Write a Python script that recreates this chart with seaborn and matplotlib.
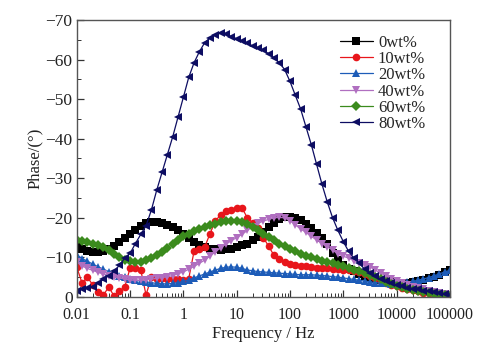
import numpy as np
import pandas as pd
import matplotlib
matplotlib.use("Agg")
import matplotlib.pyplot as plt
from matplotlib.ticker import FixedLocator, FuncFormatter, MultipleLocator, LogLocator
import seaborn as sns

# frequency grid (10 points per decade, 0.01 Hz .. 100 kHz)
freq = np.logspace(-2, 5, 71)

# phase magnitudes (degrees, plotted as negative)
phase_0 = [12.6, 12.0, 11.6, 11.4, 11.4, 11.6, 12.0, 12.8, 13.8, 15.0,
           16.0, 17.0, 17.9, 18.6, 19.0, 19.0, 18.7, 18.2, 17.6, 16.8,
           16.0, 15.0, 14.0, 13.2, 12.6, 12.2, 12.0, 11.9, 12.0, 12.2,
           12.6, 13.0, 13.5, 14.3, 15.2, 16.3, 17.6, 18.7, 19.6, 20.1,
           20.3, 20.0, 19.4, 18.5, 17.4, 16.2, 14.8, 13.4, 11.2, 9.4,
           8.0, 7.1, 6.5, 5.9, 5.4, 5.0, 4.6, 4.2, 3.9, 3.7,
           3.5, 3.4, 3.5, 3.7, 4.0, 4.3, 4.7, 5.1, 5.6, 6.2,
           6.8]
phase_10 = [7.5, 3.5, 5.0, 3.0, 1.3, 0.5, 2.5, 0.2, 1.5, 2.5,
            7.3, 7.3, 6.8, 0.5, 5.0, 4.5, 4.8, 4.6, 4.5, 4.4,
            4.3, 4.6, 11.5, 12.0, 12.6, 16.0, 19.2, 20.8, 21.6, 22.0,
            22.5, 22.5, 20.0, 18.7, 17.4, 15.0, 12.8, 10.5, 9.5, 8.8,
            8.4, 8.1, 7.9, 7.7, 7.5, 7.4, 7.3, 7.2, 7.1, 7.0,
            6.9, 6.7, 6.5, 6.2, 5.8, 5.3, 4.7, 4.1, 3.6, 3.1,
            2.7, 2.3, 2.0, 1.7, 1.4, 1.1, 0.9, 0.7, 0.5, 0.3,
            0.2]
phase_20 = [10.6, 9.7, 9.0, 8.3, 7.6, 7.0, 6.4, 5.9, 5.4, 5.0,
            4.6, 4.3, 4.0, 3.8, 3.6, 3.4, 3.3, 3.3, 3.4, 3.6,
            3.9, 4.3, 4.8, 5.3, 5.8, 6.3, 6.8, 7.2, 7.5, 7.6,
            7.5, 7.2, 6.8, 6.6, 6.4, 6.3, 6.2, 6.1, 6.0, 5.9,
            5.8, 5.7, 5.6, 5.6, 5.6, 5.5, 5.4, 5.3, 5.1, 5.0,
            4.8, 4.6, 4.4, 4.2, 4.0, 3.8, 3.6, 3.5, 3.4, 3.3,
            3.4, 3.5, 3.7, 3.9, 4.2, 4.5, 4.9, 5.3, 5.8, 6.3,
            6.7]
phase_40 = [8.8, 7.8, 7.2, 6.7, 6.2, 5.8, 5.4, 5.0, 4.8, 4.5,
            4.3, 4.2, 4.2, 4.3, 4.5, 4.7, 4.9, 5.1, 5.4, 5.9,
            6.3, 7.0, 7.7, 8.5, 9.3, 10.3, 11.4, 12.4, 13.4, 14.2,
            15.0, 15.8, 16.8, 17.8, 18.6, 19.2, 19.6, 20.0, 20.1, 20.0,
            19.3, 18.2, 17.2, 16.3, 15.3, 14.4, 13.5, 12.7, 11.8, 10.9,
            10.3, 9.8, 9.2, 8.6, 8.1, 7.6, 6.8, 6.0, 5.3, 4.6,
            4.0, 3.5, 3.0, 2.6, 2.2, 1.9, 1.6, 1.3, 1.0, 0.7,
            0.5]
phase_60 = [14.4, 14.2, 13.9, 13.5, 13.0, 12.5, 11.8, 10.8, 10.0, 9.3,
            9.0, 8.8, 8.9, 9.3, 9.8, 10.5, 11.4, 12.4, 13.4, 14.4,
            15.4, 16.0, 16.6, 17.1, 17.6, 18.1, 18.5, 18.9, 19.1, 19.3,
            19.3, 19.0, 18.4, 17.6, 16.8, 16.0, 15.1, 14.3, 13.5, 12.8,
            12.2, 11.5, 10.9, 10.4, 10.0, 9.6, 9.2, 8.9, 8.5, 8.1,
            7.7, 7.3, 6.9, 6.5, 6.0, 5.5, 5.0, 4.4, 3.8, 3.3,
            2.8, 2.4, 2.0, 1.7, 1.4, 1.2, 1.0, 0.8, 0.6, 0.4,
            0.2]
phase_80 = [1.5, 2.0, 2.3, 2.6, 3.5, 4.4, 5.4, 6.5, 8.0, 9.8,
            11.0, 13.5, 15.8, 18.0, 22.0, 27.0, 31.5, 36.0, 40.5, 45.5,
            50.5, 55.5, 59.2, 62.0, 64.3, 65.5, 66.3, 66.7, 66.5, 65.8,
            65.3, 64.7, 64.1, 63.5, 63.0, 62.4, 61.5, 60.5, 59.2, 57.5,
            54.5, 51.0, 47.5, 43.0, 38.5, 33.5, 28.5, 24.0, 20.0, 16.8,
            14.0, 11.5, 9.8, 8.5, 7.0, 6.0, 5.2, 4.5, 4.0, 3.4,
            3.0, 2.7, 2.3, 2.1, 1.9, 1.6, 1.4, 1.2, 1.0, 0.8,
            0.6]

labels = ["0wt%", "10wt%", "20wt%", "40wt%", "60wt%", "80wt%"]
colors = ["#000000", "#e8161b", "#1d5cb8", "#b06fc0", "#3b8b1d", "#0d0d62"]
markers = ["s", "o", "^", "v", "D", "<"]
series = [phase_0, phase_10, phase_20, phase_40, phase_60, phase_80]

frames = []
for lab, vals in zip(labels, series):
    frames.append(pd.DataFrame({"freq": freq, "phase": -np.array(vals), "sample": lab}))
df = pd.concat(frames, ignore_index=True)

sns.set_style("ticks")
plt.rcParams["font.family"] = ["Liberation Serif", "DejaVu Serif"]
plt.rcParams["axes.unicode_minus"] = True

fig = plt.figure(figsize=(4.89, 3.59), dpi=100)
ax = fig.add_axes([0.157, 0.173, 0.763, 0.771])

sns.lineplot(data=df, x="freq", y="phase", hue="sample", style="sample",
             palette=dict(zip(labels, colors)), markers=dict(zip(labels, markers)),
             dashes=False, markersize=5.5, markeredgewidth=0, linewidth=0.9,
             ax=ax)

ax.set_xscale("log")
ax.set_xlim(0.01, 100000)
ax.set_ylim(0, -70)

ax.xaxis.set_major_locator(FixedLocator([0.01, 0.1, 1, 10, 100, 1000, 10000, 100000]))
ax.xaxis.set_major_formatter(FuncFormatter(lambda v, p: "%g" % v if v < 1e5 else "100000"))
ax.xaxis.set_minor_locator(LogLocator(base=10, subs=np.arange(2, 10) * 1.0, numticks=20))
ax.yaxis.set_major_locator(MultipleLocator(10))
ax.yaxis.set_minor_locator(MultipleLocator(5))

ax.tick_params(which="both", direction="in", colors="#333333", labelcolor="#222222")
ax.tick_params(axis="y", labelsize=12.5, pad=3)
ax.tick_params(axis="x", labelsize=11.5, pad=7.5)
ax.tick_params(which="major", length=5, width=0.9)
ax.tick_params(which="minor", length=3, width=0.7)
for s in ax.spines.values():
    s.set_color("#555555")
    s.set_linewidth(1.0)
    s.set_visible(True)

ax.set_xlabel("Frequency / Hz", fontsize=12, color="#222222", labelpad=2)
ax.set_ylabel("Phase/(°)", fontsize=12, color="#222222", labelpad=2)

ax.legend(loc="upper right", bbox_to_anchor=(0.965, 0.99), frameon=False,
          fontsize=12, handlelength=2.0, handletextpad=0.3, labelspacing=0.02,
          borderpad=0.2)

fig.savefig("out.png", dpi=100)
